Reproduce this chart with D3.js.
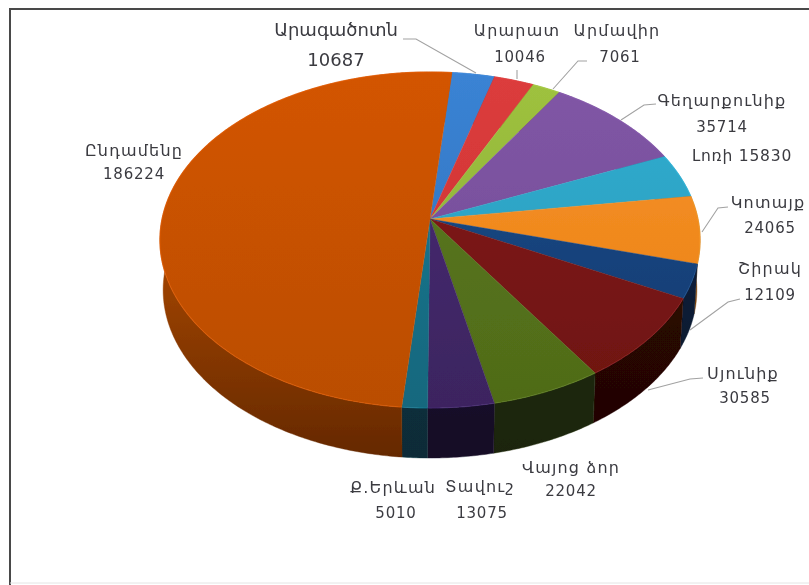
<!DOCTYPE html>
<html><head><meta charset="utf-8">
<script src="https://cdn.jsdelivr.net/npm/d3@7"></script>
<style>html,body{margin:0;background:#fff}svg{display:block}
text{font-family:"DejaVu Sans",sans-serif;fill:#3a3a40;text-anchor:middle}</style></head>
<body><svg id="c" width="809" height="585"></svg>
<script>
const categories=["Արագածոտն","Արարատ","Արմավիր","Գեղարքունիք","Լոռի","Կոտայք","Շիրակ","Սյունիք","Վայոց ձոր","Տավուշ","Ք.Երևան","Ընդամենը"];
const values=[10687,10046,7061,35714,15830,24065,12109,30585,22042,13075,5010,186224];
const topLight=["#3a83d4","#dc3c3c","#9fc23f","#8156a6","#2fadd0","#f8932a","#1c4d8c","#84191a","#5c7a1f","#4a2c74","#1b7a92","#d35400"];
const topDark=["#2f6fb8","#c93232","#86aa36","#6f4a93","#2a9ab9","#e87f12","#123a6e","#6e1410","#4f6b18","#3c2460","#14687e","#ba4e00"];
const sideLight=["#1e4470","#7a1e1e","#566e20","#3f2a58","#175f74","#8a4a0c","#0a1e3a","#2e0806","#202e0c","#1c1230","#0a3040","#a34500"];
const sideDark=["#153050","#5a1515","#3f5018","#2c1d40","#104552","#663608","#0a1626","#1e0504","#1a2408","#150c26","#072c38","#642800"];
// label layout, kept apart from the data: name x, name y, value x, value y, name size, value size
const labelLayout=[[336,36,336,66,18,18],[517,36,520,62,16,15],[617,36,620,62,16,15],[722,106,722,132,16,15],[742,161,null,null,15.5,15.5],[768,208,770,233,16,15],[770,274,770,300,16,15],[743,379,745,403,16,15],[571,473,571,496,16,15],[480,492,482,518,16,15],[393,493,396,518,16,15],[134,156,134,179,16,15]];
const leaders=[[[403,39],[416,39],[476,73]],[[517,70],[517,79]],[[587,61],[578,61],[553,89]],[[656,104],[644,105],[621,120]],[[728,207],[718,208],[702,232]],[[740,299],[728,302],[690,330]],[[703,378],[690,379],[648,390]]];

const W=809,H=585,svg=d3.select("#c");
const cx=430,cy=219,R=268,Ry=165.4,k=0.125,depth=50,shrink=0.988,start=5.3*Math.PI/180;
const defs=svg.append("defs");
const f=defs.append("filter").attr("id","soft").attr("x","-5%").attr("y","-5%").attr("width","110%").attr("height","110%");
f.append("feGaussianBlur").attr("stdDeviation",0.6);
const ft=defs.append("filter").attr("id","softText");
ft.append("feGaussianBlur").attr("stdDeviation",0.35);
function grad(id,c0,c1,y0,y1){const g=defs.append("linearGradient").attr("id",id).attr("gradientUnits","userSpaceOnUse").attr("x1",0).attr("x2",0).attr("y1",y0).attr("y2",y1);
 g.append("stop").attr("offset",0).attr("stop-color",c0);g.append("stop").attr("offset",1).attr("stop-color",c1);}
function proj(a){const u=Math.sin(a),v=Math.cos(a),w=1+k*v;return [cx+R*u/w,cy-Ry*v/w];}
function projB(a){const p=proj(a);return [cx+(p[0]-cx)*shrink,p[1]+depth];}
const pie=d3.pie().sort(null).startAngle(start).endAngle(start+2*Math.PI).value(d=>d);
const arcs=pie(values);
const line=d3.line();
const sample=(a,b)=>{const n=Math.max(2,Math.ceil((b-a)/0.01));return d3.range(n+1).map(i=>a+(b-a)*i/n);};
svg.append("rect").attr("width",W).attr("height",H).attr("fill","#fff");
const frame=svg.append("g").attr("filter","url(#softText)");
frame.append("path").attr("d",line([[10,585],[10,9],[809,9]])).attr("fill","none").attr("stroke","#4a4a4a").attr("stroke-width",2);
frame.append("path").attr("d",line([[10,583],[809,583]])).attr("fill","none").attr("stroke","#e4e4e4");
const pieG=svg.append("g").attr("filter","url(#soft)");
arcs.forEach((d,i)=>{
 grad("s"+i,sideLight[i],sideDark[i],cy+40,cy+240);
 const s=sample(d.startAngle,d.endAngle);
 const pts=s.map(proj).concat(s.slice().reverse().map(projB));
 pieG.append("path").attr("d",line(pts)+"Z").attr("fill",`url(#s${i})`).attr("stroke",`url(#s${i})`).attr("stroke-width",0.4);
});
arcs.forEach((d,i)=>{
 grad("t"+i,topLight[i],topDark[i],cy-147,cy+189);
 const s=sample(d.startAngle,d.endAngle);
 pieG.append("path").attr("d",line([[cx,cy]].concat(s.map(proj)))+"Z").attr("fill",`url(#t${i})`).attr("stroke",`url(#t${i})`).attr("stroke-width",0.4);
 pieG.append("path").attr("d",line(s.map(proj))).attr("fill","none").attr("stroke",d3.color(topLight[i]).brighter(0.5)).attr("stroke-opacity",0.4).attr("stroke-width",1.2);
});
const lg=svg.append("g").attr("filter","url(#softText)");
leaders.forEach(p=>lg.append("path").attr("d",line(p)).attr("fill","none").attr("stroke","#a2a2a2").attr("stroke-width",1.1));
const tg=svg.append("g").attr("filter","url(#softText)");
categories.forEach((c,i)=>{const [nx,ny,vx,vy,fn,fv]=labelLayout[i];
 const big=fn>=18;
 if(vx===null){tg.append("text").attr("x",nx).attr("y",ny).attr("font-size",fn).attr("letter-spacing",0.8).text(c+" "+values[i]);return;}
 tg.append("text").attr("x",nx).attr("y",ny).attr("font-size",fn).attr("letter-spacing",big?0:1.2).text(c);
 tg.append("text").attr("x",vx).attr("y",vy).attr("font-size",fv).attr("letter-spacing",big?0:0.8).text(values[i]);
});
</script></body></html>
